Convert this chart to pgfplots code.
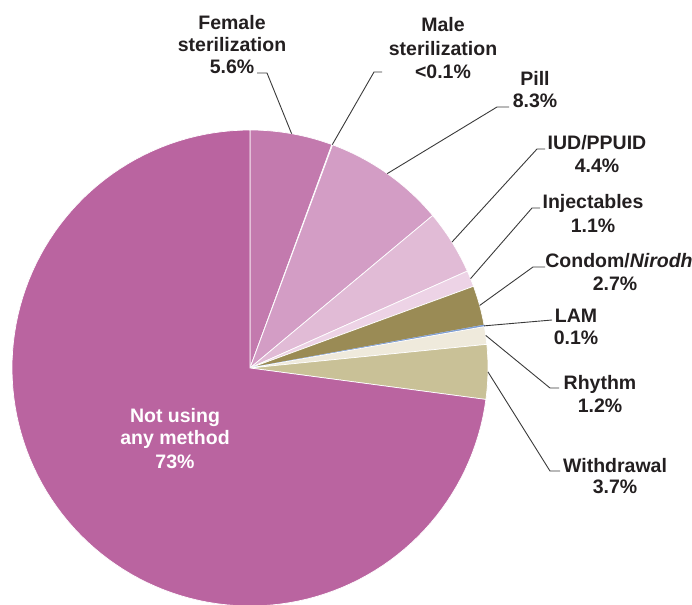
\documentclass[border=0pt]{standalone}
\usepackage{pgfplots}
\pgfplotsset{compat=1.18}
\usepackage{fontspec}
\setmainfont{Liberation Sans}
\definecolor{cNot}{HTML}{BA64A0}
\definecolor{cFem}{HTML}{C37AAE}
\definecolor{cMale}{HTML}{C88CBA}
\definecolor{cPill}{HTML}{D39DC5}
\definecolor{cIUD}{HTML}{E1BBD6}
\definecolor{cInj}{HTML}{EDD3E6}
\definecolor{cCond}{HTML}{9A8B55}
\definecolor{cLAM}{HTML}{7C9CD2}
\definecolor{cRhy}{HTML}{EFEADC}
\definecolor{cWith}{HTML}{C9C197}
\definecolor{txt}{HTML}{231F20}
\definecolor{lead}{HTML}{3A3A3A}

\def\cx{250}\def\cy{368}\def\R{238}
% total of the shares (Male sterilization <0.1% taken as 0.05)
\def\total{100.15}
\gdef\cum{0}
\newcommand{\slice}[4]{% #1 value, #2 fill, #3 border, #4 name
  \pgfmathsetmacro{\angA}{-90+(\cum/\total)*360}%
  \pgfmathsetmacro{\angB}{-90+((\cum+#1)/\total)*360}%
  \pgfmathsetmacro{\angM}{(\angA+\angB)/2}%
  \pgfmathsetmacro{\mx}{\cx+\R*cos(\angM)}%
  \pgfmathsetmacro{\my}{\cy+\R*sin(\angM)}%
  \expandafter\xdef\csname mx#4\endcsname{\mx}%
  \expandafter\xdef\csname my#4\endcsname{\my}%
  \edef\doslice{\noexpand\addplot[fill=#2, draw=#3, line width=0.35pt, domain=\angA:\angB, samples=120, variable=\noexpand\t] ({\cx+\R*cos(\noexpand\t)},{\cy+\R*sin(\noexpand\t)}) -- (\cx,\cy) -- cycle;}%
  \doslice
  \pgfmathsetmacro{\newcum}{\cum+#1}%
  \xdef\cum{\newcum}%
}
\newcommand{\lbl}[4][txt]{\node[anchor=base, inner sep=0pt, text=#1, font=\fontsize{9.75}{11}\selectfont\bfseries] at (#2,#3) {#4};}

\begin{document}
\begin{tikzpicture}
\begin{axis}[scale only axis, width=346pt, height=302.5pt,
  xmin=0, xmax=692, ymin=0, ymax=605, y dir=reverse,
  hide axis, clip=false]
\slice{5.6}{cFem}{white}{Fem}
\slice{0.05}{cMale}{white}{Male}
\slice{8.3}{cPill}{white}{Pill}
\slice{4.4}{cIUD}{white}{IUD}
\slice{1.1}{cInj}{white}{Inj}
\slice{2.7}{cCond}{white}{Cond}
\slice{0.1}{cLAM}{cLAM}{LAM}
\slice{1.2}{cRhy}{white}{Rhy}
\slice{3.7}{cWith}{white}{With}
\slice{73}{cNot}{white}{Not}

\begin{scope}[draw=lead, line width=0.45pt]
\draw (257,73) -- (267,73) -- (\mxFem,\myFem);
\draw (382,72) -- (374,72) -- (\mxMale,\myMale);
\draw (509,107) -- (497,107) -- (\mxPill,\myPill);
\draw (545,149) -- (537,149) -- (\mxIUD,\myIUD);
\draw (540,208) -- (532,208) -- (\mxInj,\myInj);
\draw (545,267) -- (533,267) -- (\mxCond,\myCond);
\draw (552,320) -- (\mxLAM,\myLAM);
\draw (559,388) -- (550,388) -- (\mxRhy,\myRhy);
\draw (560,471) -- (550,471) -- (\mxWith,\myWith);
\end{scope}

\lbl{232}{29}{Female}
\lbl{232}{52}{sterilization}
\lbl{232}{74}{5.6\%}
\lbl{443}{32}{Male}
\lbl{443}{55}{sterilization}
\lbl{443}{78}{<0.1\%}
\lbl{535}{85}{Pill}
\lbl{535}{107}{8.3\%}
\lbl{597}{149}{IUD/PPUID}
\lbl{597}{172}{4.4\%}
\lbl{593}{208}{Injectables}
\lbl{593}{232}{1.1\%}
\lbl{619}{267}{Condom/\textit{Nirodh}}
\lbl{615}{290}{2.7\%}
\lbl{576}{322}{LAM}
\lbl{576}{344}{0.1\%}
\lbl{600}{389}{Rhythm}
\lbl{600}{412}{1.2\%}
\lbl{615}{472}{Withdrawal}
\lbl{615}{493}{3.7\%}
\lbl[white]{175}{422}{Not using}
\lbl[white]{175}{444}{any method}
\lbl[white]{175}{468}{73\%}
\end{axis}
\pgfresetboundingbox
\path (current axis.south west) rectangle (current axis.north east);
\end{tikzpicture}
\end{document}
